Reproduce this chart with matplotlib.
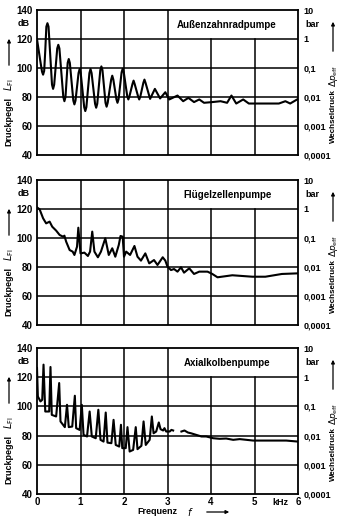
import matplotlib
matplotlib.use("Agg")
import matplotlib.pyplot as plt
from matplotlib.patches import FancyArrowPatch
import numpy as np

# Frequenz in kHz, Druckpegel in dB
f_aussen = [0, 0.07, 0.115, 0.14, 0.165, 0.19, 0.215, 0.24, 0.265, 0.345, 0.37, 0.395,
            0.465, 0.49, 0.515, 0.605, 0.63, 0.655, 0.705, 0.73, 0.755, 0.835, 0.86, 0.885,
            0.955, 0.98, 1.005, 1.085, 1.11, 1.135, 1.205, 1.23, 1.255, 1.335, 1.36, 1.385,
            1.455, 1.48, 1.505, 1.575, 1.60, 1.625, 1.705, 1.73, 1.755, 1.825, 1.85, 1.875,
            1.945, 1.97, 1.995, 2.075, 2.10, 2.125, 2.195, 2.22, 2.245, 2.325, 2.35, 2.375,
            2.445, 2.47, 2.495, 2.60, 2.71, 2.83, 2.95, 3.04, 3.23, 3.36, 3.48, 3.61, 3.73,
            3.84, 4.03, 4.22, 4.37, 4.47, 4.58, 4.74, 4.87, 5.25, 5.56, 5.71, 5.82, 5.98]
L_aussen = [119.9, 106.0, 97.5, 95.4, 98.0, 112.0, 128.5, 130.9, 128.5, 88.5, 85.6, 88.5,
            113.5, 116.0, 113.5, 80.0, 77.1, 80.0, 103.5, 106.2, 103.5, 77.5, 74.9, 77.5,
            96.5, 99.3, 96.5, 73.0, 70.3, 73.0, 96.5, 99.3, 96.5, 75.3, 72.6, 75.3,
            98.5, 101.1, 98.5, 76.0, 73.3, 76.0, 92.0, 94.7, 92.0, 78.5, 76.0, 78.5,
            97.0, 99.5, 97.0, 80.5, 78.3, 80.5, 89.0, 91.3, 89.0, 80.3, 78.3, 80.3,
            89.8, 92.0, 89.8, 78.7, 85.6, 79.0, 83.3, 78.3, 81.0, 77.1, 79.4, 76.5, 78.3,
            76.0, 76.5, 77.1, 76.0, 81.0, 75.5, 78.3, 75.5, 75.5, 75.5, 77.1, 75.5, 78.3]

f_fluegel = [0, 0.06, 0.14, 0.21, 0.29, 0.35, 0.44, 0.52, 0.60, 0.63, 0.67, 0.75, 0.82, 0.86,
             0.92, 0.95, 1.00, 1.09, 1.17, 1.22, 1.27, 1.32, 1.40, 1.47, 1.57, 1.65, 1.73,
             1.80, 1.88, 1.92, 1.97, 2.00, 2.05, 2.14, 2.24, 2.31, 2.39, 2.49, 2.58, 2.69,
             2.77, 2.89, 2.95, 3.00, 3.08, 3.15, 3.23, 3.31, 3.38, 3.50, 3.61, 3.73, 3.92,
             4.03, 4.15, 4.49, 4.95, 5.25, 5.63, 5.98]
L_fluegel = [121.1, 119.8, 113.6, 110.1, 111.3, 107.8, 105.1, 102.1, 100.9, 101.6, 97.5, 91.7,
             90.6, 88.3, 94.0, 107.1, 89.4, 89.9, 87.6, 90.6, 104.4, 90.6, 86.7, 90.6, 99.8,
             88.3, 92.9, 87.1, 95.2, 101.4, 100.9, 87.1, 90.6, 88.3, 94.5, 87.1, 84.4, 89.4,
             82.5, 84.8, 81.4, 86.7, 84.4, 80.2, 77.9, 78.6, 76.8, 79.8, 76.1, 79.1, 75.2,
             76.8, 76.8, 75.2, 72.9, 74.3, 73.3, 73.3, 75.2, 75.6]

f_axial = [0, 0.02, 0.08, 0.12, 0.15, 0.19, 0.28, 0.31, 0.34, 0.44, 0.51, 0.54, 0.64, 0.69,
           0.73, 0.81, 0.87, 0.90, 0.98, 1.03, 1.07, 1.15, 1.21, 1.26, 1.35, 1.41, 1.46, 1.53,
           1.58, 1.62, 1.71, 1.76, 1.81, 1.89, 1.93, 1.96, 2.04, 2.08, 2.13, 2.21, 2.27, 2.31,
           2.40, 2.45, 2.50, 2.59, 2.64, 2.68, 2.74, 2.80, 2.84, 2.90, 2.93, 2.97, 3.05, 3.09,
           3.13, 3.20, 3.32, 3.39, 3.47, 3.54, 3.66, 3.78, 3.89, 4.05, 4.20, 4.35, 4.51, 4.66,
           4.97, 5.27, 5.73, 6.00]
L_axial = [126.3, 106.8, 103.4, 104.5, 128.6, 96.5, 96.5, 127.0, 94.2, 93.1, 116.0, 89.7, 85.8,
           101.1, 85.8, 86.2, 107.3, 85.1, 83.9, 101.1, 80.5, 79.4, 96.5, 79.4, 78.2, 97.7,
           77.1, 75.9, 95.8, 75.2, 74.8, 90.8, 73.6, 72.5, 87.4, 71.4, 71.4, 85.8, 69.1, 70.2,
           85.8, 70.7, 73.0, 89.7, 73.6, 77.1, 93.1, 81.6, 82.8, 89.0, 84.4, 83.5, 85.1, 82.8,
           82.8, 83.9, 83.5, np.nan, 82.8, 83.5, 82.1, 81.6, 80.5, 79.4, 79.4, 78.2, 77.8, 78.0,
           77.1, 77.6, 76.6, 76.6, 76.6, 75.9]

titles = ["Außenzahnradpumpe", "Flügelzellenpumpe", "Axialkolbenpumpe"]
left_ticks = [40, 60, 80, 100, 120, 140]
right_labels = ["0,0001", "0,001", "0,01", "0,1", "1", "10"]
x_ticks = [0, 1, 2, 3, 4, 5, 6]

fig = plt.figure(figsize=(3.38, 5.18), dpi=100)
W, H = 338.0, 518.0
font = dict(family=["Liberation Sans", "DejaVu Sans"], weight="bold")


def arrow(p0, p1):
    fig.add_artist(FancyArrowPatch((p0[0] / W, 1 - p0[1] / H), (p1[0] / W, 1 - p1[1] / H),
                                   transform=fig.transFigure, arrowstyle="-|>",
                                   mutation_scale=5, lw=0.9, color="black"))


panels = [(10, 155, f_aussen, L_aussen),
          (180, 325, f_fluegel, L_fluegel),
          (348, 494, f_axial, L_axial)]

for i, (top, bot, f, L) in enumerate(panels):
    ax = fig.add_axes([37 / W, 1 - bot / H, (298 - 37) / W, (bot - top) / H])
    ax.set_xlim(0, 6)
    ax.set_ylim(40, 140)
    # grid, label box (3..6 kHz, 120..140 dB) stays blank
    for y in [60, 80, 100, 120]:
        ax.plot([0, 6], [y, y], color="black", lw=1.1, zorder=1)
    for x in [1, 2, 3, 4, 5]:
        ytop = 120 if x > 3 else 140
        ax.plot([x, x], [40, ytop], color="black", lw=1.1, zorder=1)
    ax.plot(f, L, color="black", lw=1.5, zorder=3, solid_joinstyle="round")
    ax.text(4.37, 129.5, titles[i], ha="center", va="center", fontsize=7, **font)
    for s in ax.spines.values():
        s.set_linewidth(1.3)
    ax.set_yticks(left_ticks)
    ax.set_yticklabels([str(t) for t in left_ticks], fontsize=7, **font)
    ax.tick_params(axis="y", length=0, pad=3)
    ax.set_xticks(x_ticks)
    if i == 2:
        ax.set_xticklabels([str(t) for t in x_ticks], fontsize=7, **font)
        ax.tick_params(axis="x", length=0, pad=2)
        ax.text(5.6, 37.5, "kHz", ha="center", va="top", fontsize=6.5, **font)
    else:
        ax.set_xticklabels([])
        ax.tick_params(axis="x", length=0)
    ax.text(-0.3, 130.5, "dB", ha="center", va="center", fontsize=6.5, **font)

    ax2 = ax.twinx()
    ax2.set_ylim(40, 140)
    ax2.set_yticks(left_ticks)
    ax2.set_yticklabels(right_labels, fontsize=6.5, **font)
    ax2.tick_params(axis="y", length=0, pad=4)
    ax2.text(1.03, 0.9, "bar", transform=ax.transAxes, ha="left", va="center",
             fontsize=6.5, **font)
    for s in ax2.spines.values():
        s.set_visible(False)

    # axis labels with arrows
    fig.text(9 / W, 1 - (top + 112) / H, "Druckpegel", rotation=90, ha="center",
             va="center", fontsize=6.5, **font)
    fig.text(9 / W, 1 - (top + 75) / H, r"$L_{\mathrm{Fl}}$", rotation=90, ha="center",
             va="center", fontsize=7)
    arrow((9, top + 58), (9, top + 26))
    fig.text(333 / W, 1 - (top + 106) / H, "Wechseldruck", rotation=90, ha="center",
             va="center", fontsize=5.8, **font)
    fig.text(333 / W, 1 - (top + 66) / H, r"$\Delta p_{\mathrm{eff}}$", rotation=90,
             ha="center", va="center", fontsize=6.5)
    arrow((333, top + 44), (333, top + 9))

fig.text(157 / W, 1 - 512 / H, "Frequenz", ha="center", va="center", fontsize=6.5, **font)
fig.text(190 / W, 1 - 512 / H, r"$f$", ha="center", va="center", fontsize=7)
arrow((204, 512), (232, 512))

fig.savefig("out.png", dpi=100)
